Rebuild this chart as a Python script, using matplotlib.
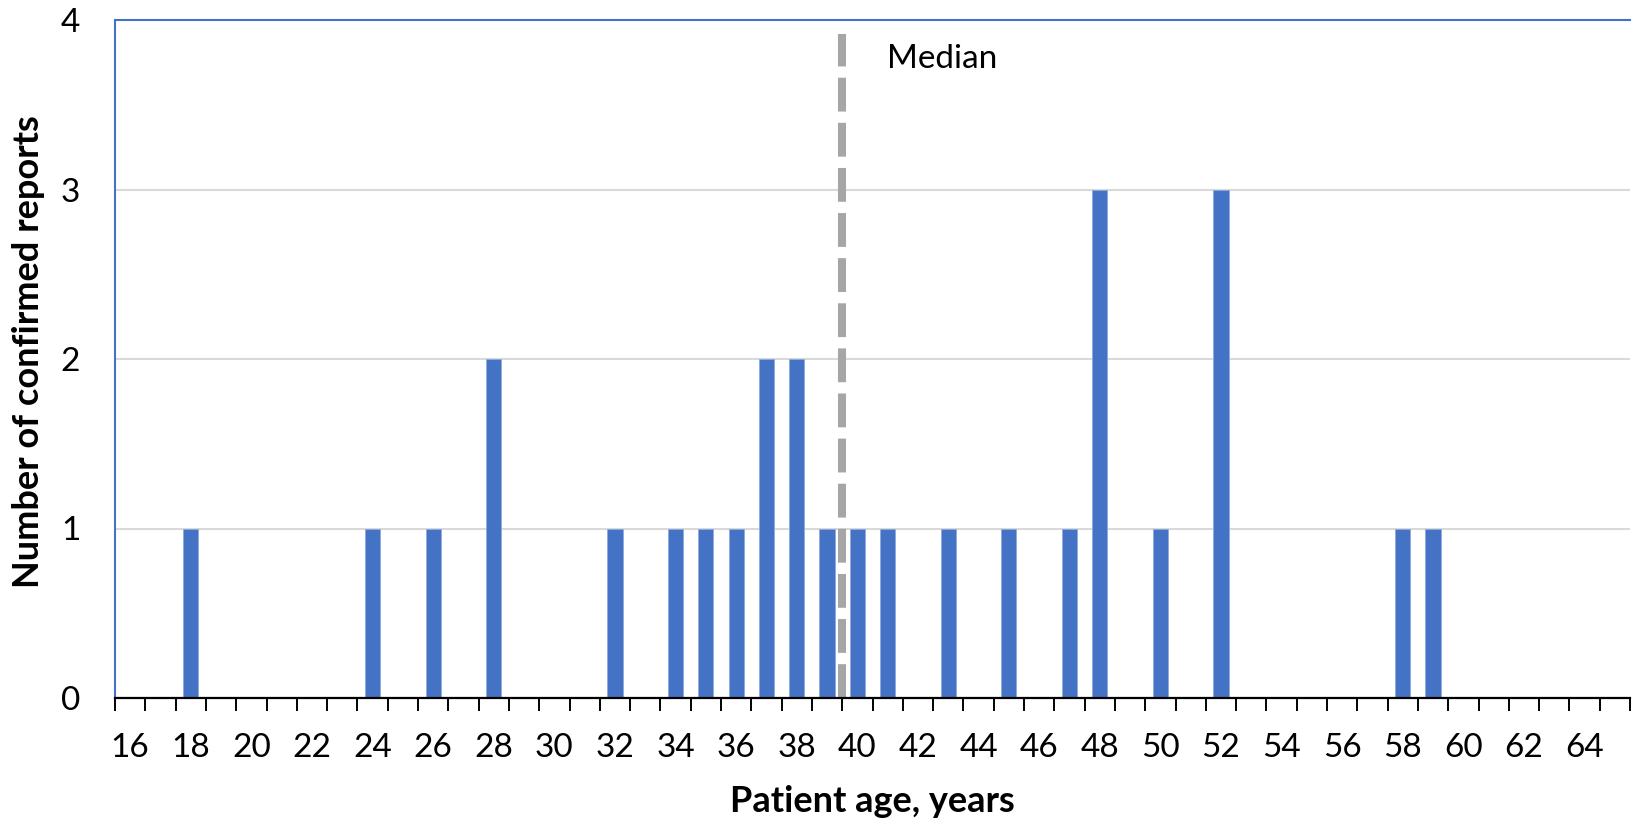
import numpy as np
import matplotlib
matplotlib.use("Agg")
import matplotlib.pyplot as plt

# =============================
# DATA
# =============================
ages = list(range(16, 66))
counts = [0, 0, 1, 0, 0, 0, 0, 0, 1, 0,   # 16-25
          1, 0, 2, 0, 0, 0, 1, 0, 1, 1,   # 26-35
          1, 2, 2, 1, 1, 1, 0, 1, 0, 1,   # 36-45
          0, 1, 3, 0, 1, 0, 3, 0, 0, 0,   # 46-55
          0, 0, 1, 1, 0, 0, 0, 0, 0, 0]   # 56-65
median_age = 39.5
y_ticks = [0, 1, 2, 3, 4]

BLUE = "#4472C4"
GRID = "#D9D9D9"
MEDIAN_GREY = "#A6A6A6"

plt.rcParams["font.family"] = ["Lato", "DejaVu Sans"]

# =============================
# FIGURE
# =============================
fig = plt.figure(figsize=(16.33, 8.25), dpi=100)
W, H = 1633, 825
ax = fig.add_axes([115 / W, 1 - 698 / H, (1630 - 115) / W, (698 - 20) / H])

x = np.arange(len(ages))
ax.bar(x, counts, width=0.5, color=BLUE, edgecolor="#8FAADC", linewidth=0.6, zorder=3)

# median line
med_pos = ages.index(int(median_age)) + (median_age - int(median_age))
ax.plot([med_pos, med_pos], [0, 3.92], color=MEDIAN_GREY, linewidth=5.8,
        dashes=(4.2, 1.4), zorder=4, solid_capstyle="butt", dash_capstyle="butt")
ax.text(med_pos + 1.48, 3.77, "Median", fontsize=24, va="center", ha="left", zorder=5)

# axes limits / grid
ax.set_xlim(-0.5, len(ages) - 0.5)
ax.set_ylim(0, 4)
ax.set_yticks(y_ticks)
ax.set_yticklabels([str(v) for v in y_ticks], fontsize=24)
ax.yaxis.grid(True, color=GRID, linewidth=1.5, zorder=0)
ax.set_axisbelow(True)
ax.tick_params(axis="y", length=0, pad=25)

# x ticks: marks at category edges, labels on even ages
ax.set_xticks(np.arange(-0.5, len(ages), 1))
ax.set_xticklabels([])
ax.tick_params(axis="x", which="major", length=9, width=1.4, color="black", direction="out")
label_pos = [i for i, a in enumerate(ages) if a % 2 == 0]
ax.set_xticks(label_pos, minor=True)
ax.set_xticklabels([str(ages[i]) for i in label_pos], minor=True, fontsize=24)
ax.tick_params(axis="x", which="minor", length=0, pad=25)

for side in ["left", "top"]:
    ax.spines[side].set_color(BLUE)
    ax.spines[side].set_linewidth(1.5)
ax.spines["right"].set_visible(False)
ax.spines["bottom"].set_color("black")
ax.spines["bottom"].set_linewidth(1.6)
ax.spines["bottom"].set_zorder(6)

ax.set_xlabel("Patient age, years", fontsize=26, fontweight="bold", labelpad=16)
fig.text(29 / W, 1 - 352 / H, "Number of confirmed reports", fontsize=26,
         fontweight="bold", rotation=90, ha="center", va="center")

fig.savefig("out.png", dpi=100)
